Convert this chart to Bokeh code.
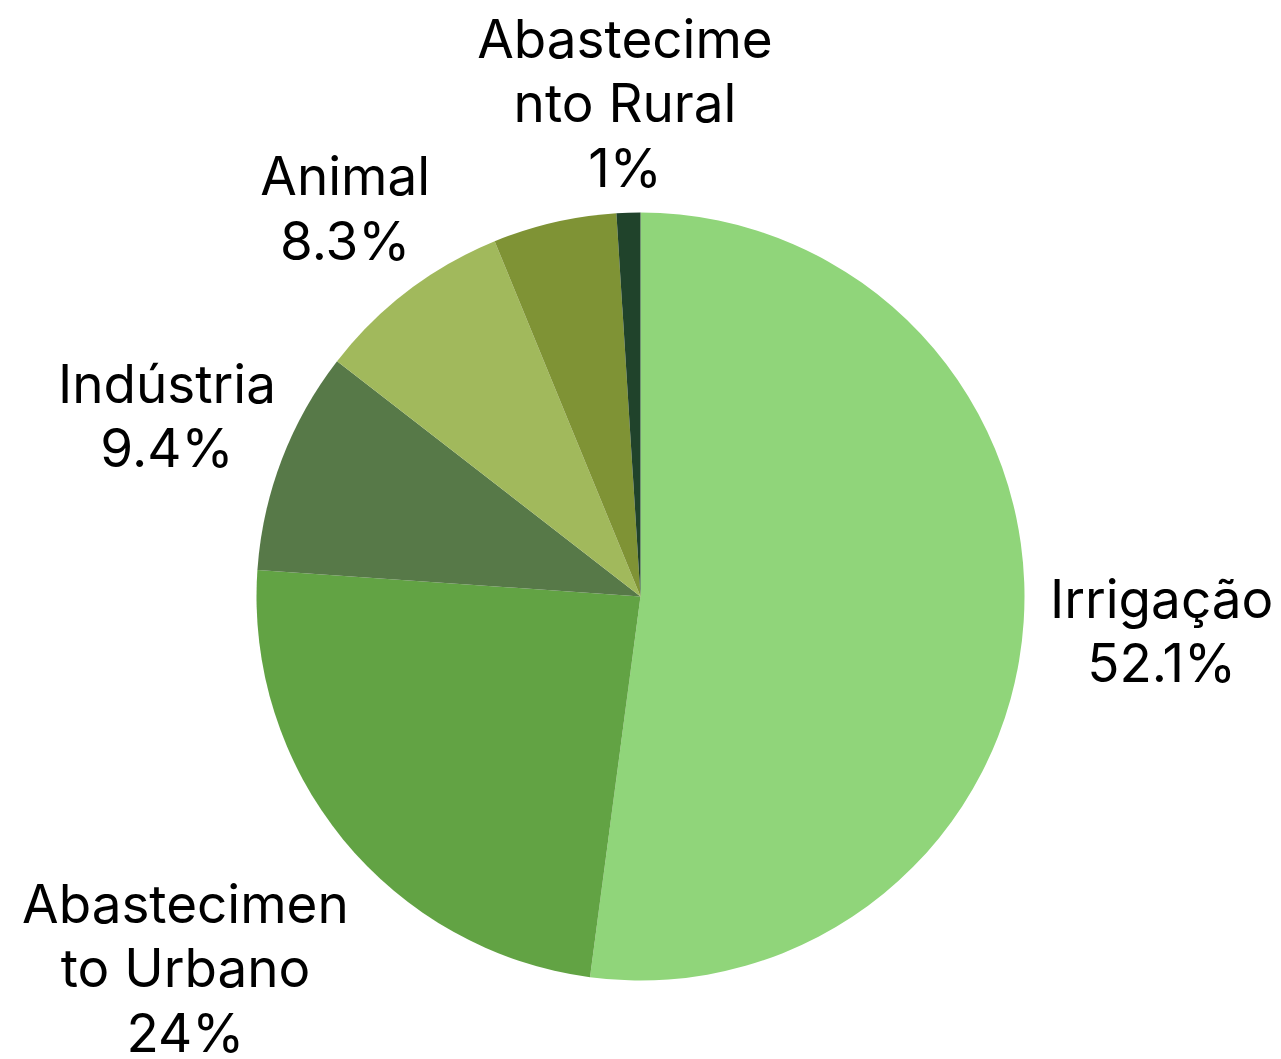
import math
from bokeh.plotting import figure
from bokeh.models import ColumnDataSource
from bokeh.core.properties import value
from bokeh.embed import file_html
from bokeh.resources import INLINE

categories = ["Irrigação", "Abastecimento Urbano", "Indústria", "Animal", "Termelétrica", "Abastecimento Rural"]
shares = [52.1, 24.0, 9.4, 8.3, 5.2, 1.0]
share_labels = ["52.1%", "24%", "9.4%", "8.3%", "", "1%"]
label_names = ["Irrigação", "Abastecimen\nto Urbano", "Indústria", "Animal", "", "Abastecime\nnto Rural"]
colors = ["#90d57a", "#62a344", "#577948", "#a1b95c", "#7f9335", "#20432b"]
label_dist = [1.36, 1.53, 1.32, 1.27, 1.2, 1.285]

W, H = 1281, 1059
R_PX = 384.0
CX, CY = 640.0, 596.0

total = sum(shares)
starts, ends, mids = [], [], []
acc = 0.0
for s in shares:
    a0 = math.pi / 2 - acc / total * 2 * math.pi
    acc += s
    a1 = math.pi / 2 - acc / total * 2 * math.pi
    starts.append(a0)
    ends.append(a1)
    mids.append((a0 + a1) / 2)

src = ColumnDataSource(dict(cat=categories, start=starts, end=ends, color=colors))

p = figure(width=W, height=H, output_backend="svg", toolbar_location=None,
           x_range=(-CX / R_PX, (W - CX) / R_PX), y_range=(-(H - CY) / R_PX, CY / R_PX),
           x_axis_location=None, y_axis_location=None, min_border=0,
           tools="")
p.grid.visible = False
p.outline_line_color = None
p.background_fill_color = "white"

p.wedge(x=0, y=0, radius=1.0, start_angle="start", end_angle="end", direction="clock",
        fill_color="color", line_color=None, source=src)

lx, ly, lt = [], [], []
for name, pct, m, d in zip(label_names, share_labels, mids, label_dist):
    if not pct:
        continue
    lx.append(d * math.cos(m))
    ly.append(d * math.sin(m))
    lt.append(name + "\n" + pct)

lsrc = ColumnDataSource(dict(x=lx, y=ly, t=lt))
p.text(x="x", y="y", text="t", source=lsrc, text_align="center", text_baseline="middle",
       text_font=value("Inter"), text_font_size="53px", text_color="#000000",
       text_line_height=1.01)

open("out.html", "w").write(file_html(p, INLINE))
